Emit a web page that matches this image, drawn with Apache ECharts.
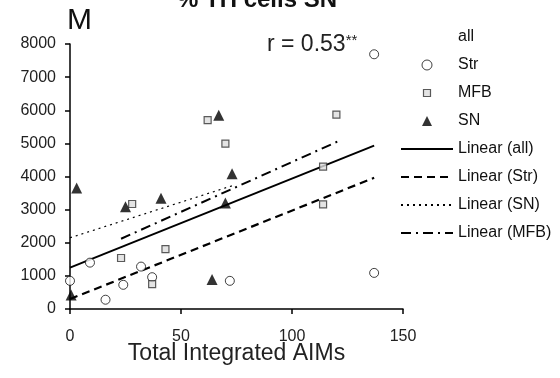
<!DOCTYPE html>
<html>
<head>
<meta charset="utf-8">
<script src="https://cdn.jsdelivr.net/npm/echarts@6/dist/echarts.min.js"></script>
<style>
  html, body { margin: 0; padding: 0; background: #fff; }
  #chart { width: 560px; height: 378px; }
</style>
</head>
<body>
<div id="chart"></div>
<script>
// scatter points [Total Integrated AIMs, value]
const strPoints = [[0, 850], [9, 1400], [16, 280], [24, 730], [32, 1280], [37, 960], [72, 850], [137, 7690], [137, 1090]]
const mfbPoints = [[23, 1540], [28, 3170], [37, 750], [43, 1810], [62, 5700], [70, 4990], [114, 4300], [114, 3160], [120, 5870]]
const snPoints = [[0.5, 420], [3, 3650], [25, 3090], [41, 3340], [64, 890], [67, 5850], [70, 3200], [73, 4080]]

// trend lines, endpoints only
const trendAll = [[0, 1250], [137, 4930]]
const trendStr = [[0, 300], [137, 3960]]
const trendSN = [[0, 2150], [73, 3720]]
const trendMFB = [[23, 2120], [122, 5100]]

const xTicks = { min: 0, max: 150, interval: 50 }
const yTicks = { min: 0, max: 8000, interval: 1000 }

const font = 'Liberation Sans, Arial, sans-serif'
const squareIcon = 'path://M0,0M10,10M1.5,1.5H8.5V8.5H1.5Z'
const triangleIcon = 'path://M5,0L10,10H0Z'
const hideDot = { opacity: 0 }

const chart = echarts.init(document.getElementById('chart'))

chart.setOption({
  backgroundColor: '#fff',
  animation: false,
  textStyle: { fontFamily: font, color: '#111' },
  title: [
    { text: '% TH cells SN', left: 172, top: -17,
      textStyle: { fontSize: 24, fontWeight: 'bold', fontFamily: font, color: '#111' } },
    { text: 'M', left: 62, top: 1,
      textStyle: { fontSize: 30, fontWeight: 'normal', fontFamily: font, color: '#111' } },
    { text: '{a|r = 0.53}{b|**}', left: 262, top: 28,
      textStyle: {
        rich: {
          a: { fontSize: 23, fontWeight: 'normal', fontFamily: font, color: '#222' },
          b: { fontSize: 15, fontWeight: 'normal', fontFamily: font, color: '#222', verticalAlign: 'top', padding: [0, 0, 8, 0] }
        }
      } }
  ],
  grid: { left: 70, right: 157, top: 44, bottom: 69 },
  legend: {
    orient: 'vertical',
    left: 395,
    top: 24,
    itemWidth: 52,
    itemHeight: 10,
    itemGap: 12,
    selectedMode: false,
    textStyle: { fontSize: 16, fontFamily: font, color: '#111' },
    data: [
      { name: 'all', icon: 'rect', itemStyle: { color: 'rgba(0,0,0,0)', borderWidth: 0 } },
      { name: 'Str', icon: 'circle', itemStyle: { color: '#fff', borderColor: '#111', borderWidth: 1 } },
      { name: 'MFB', icon: squareIcon, itemStyle: { color: '#ddd', borderColor: '#333', borderWidth: 1.2 } },
      { name: 'SN', icon: triangleIcon, itemStyle: { color: '#000', borderWidth: 0 } },
      { name: 'Linear (all)', itemStyle: hideDot },
      { name: 'Linear (Str)', itemStyle: hideDot },
      { name: 'Linear (SN)', itemStyle: hideDot },
      { name: 'Linear (MFB)', itemStyle: hideDot }
    ]
  },
  xAxis: {
    type: 'value',
    min: xTicks.min, max: xTicks.max, interval: xTicks.interval,
    name: 'Total Integrated AIMs',
    nameLocation: 'middle',
    nameGap: 33,
    nameMoveOverlap: false,
    nameTextStyle: { fontSize: 23, fontFamily: font, color: '#222' },
    axisLine: { lineStyle: { color: '#000', width: 1.5 } },
    axisTick: { show: true, length: 5, lineStyle: { color: '#000', width: 1.5 } },
    axisLabel: { fontSize: 16, margin: 20, color: '#222', fontFamily: font },
    splitLine: { show: false }
  },
  yAxis: {
    type: 'value',
    min: yTicks.min, max: yTicks.max, interval: yTicks.interval,
    axisLine: { show: true, lineStyle: { color: '#000', width: 1.5 } },
    axisTick: { show: true, length: 5, lineStyle: { color: '#000', width: 1.5 } },
    axisLabel: { fontSize: 16, margin: 14, color: '#222', fontFamily: font, formatter: v => String(v) },
    splitLine: { show: false }
  },
  series: [
    { name: 'all', type: 'scatter', data: [] },
    { name: 'Linear (all)', type: 'line', data: trendAll, symbol: 'none', z: 1,
      lineStyle: { color: '#000', width: 2, type: 'solid' } },
    { name: 'Linear (Str)', type: 'line', data: trendStr, symbol: 'none', z: 1,
      lineStyle: { color: '#000', width: 2.2, type: [8, 5] } },
    { name: 'Linear (SN)', type: 'line', data: trendSN, symbol: 'none', z: 1,
      lineStyle: { color: '#000', width: 1.2, type: [2, 4] } },
    { name: 'Linear (MFB)', type: 'line', data: trendMFB, symbol: 'none', z: 1,
      lineStyle: { color: '#000', width: 2, type: [10, 5, 2, 5] } },
    { name: 'Str', type: 'scatter', data: strPoints, symbol: 'circle', symbolSize: 9, z: 3,
      itemStyle: { color: '#fff', borderColor: '#111', borderWidth: 1 } },
    { name: 'MFB', type: 'scatter', data: mfbPoints, symbol: 'rect', symbolSize: 7, z: 3,
      itemStyle: { color: '#ddd', borderColor: '#333', borderWidth: 1.2 } },
    { name: 'SN', type: 'scatter', data: snPoints, symbol: 'triangle', symbolSize: 11, z: 3,
      itemStyle: { color: '#000' } }
  ]
})
</script>
</body>
</html>
